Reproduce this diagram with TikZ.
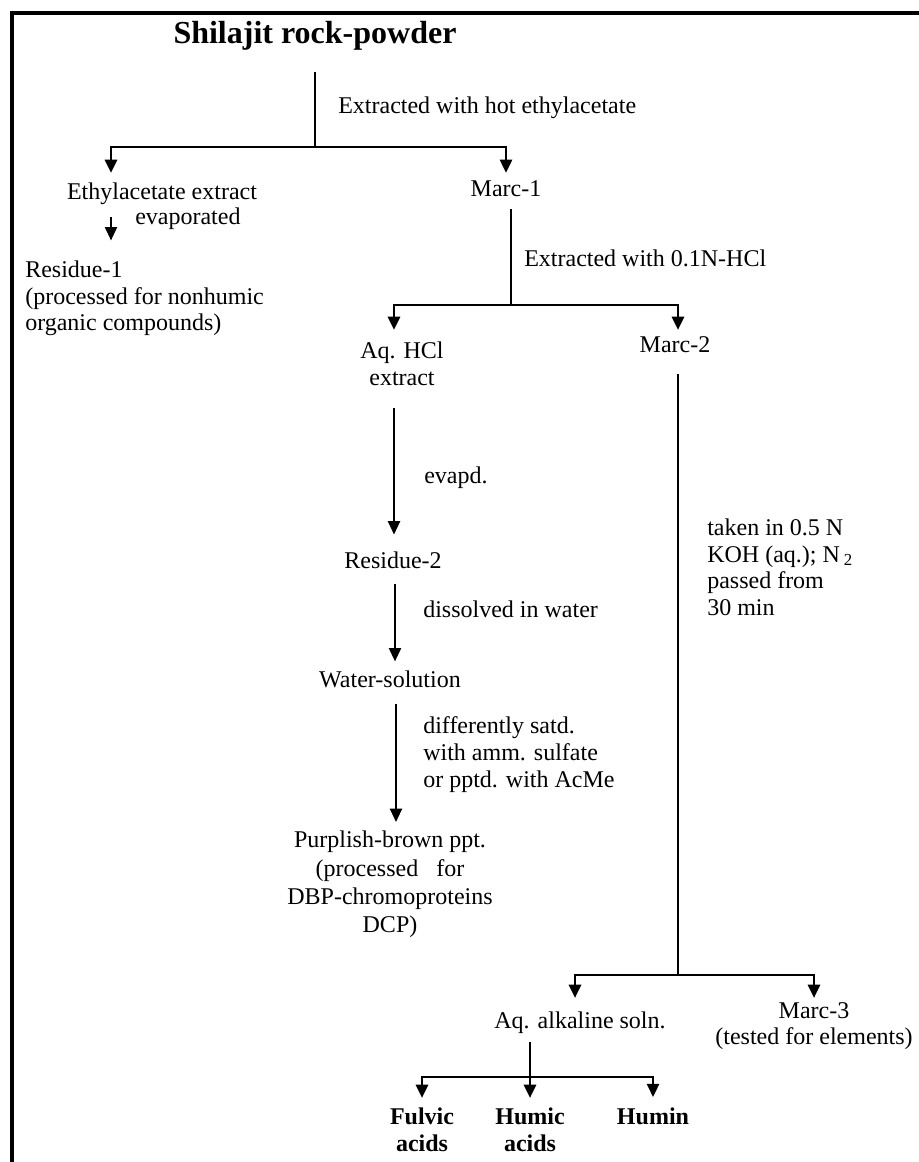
\documentclass[tikz,border=0pt]{standalone}
\usepackage{fontspec}
\setmainfont{Liberation Serif}
\usetikzlibrary{arrows.meta}

\begin{document}
\begin{tikzpicture}[x=0.75pt,y=0.75pt,yscale=-1,xscale=1,
  txt/.style={font=\fontsize{18}{20}\selectfont,inner sep=0pt},
  txtbf/.style={font=\fontsize{18}{20}\selectfont\bfseries,inner sep=0pt},
  stemline/.style={line width=1.5pt},
  forkline/.style={line width=2.2pt},
  downarrow/.style={-{Triangle[width=9pt,length=10pt]}},
  frameline/.style={line width=2.4pt}]
\useasboundingbox (0,0) rectangle (918,1162);

%Straight Lines [frame]
\draw [frameline] (930,13) -- (12,13) -- (12,1175) ;

% Text Node
\node (title) at (315,44) [anchor=base,inner sep=0pt,font=\fontsize{24}{28}\selectfont\bfseries] {Shilajit rock-powder};
% Text Node
\node (extr1) at (338,114) [anchor=base west,txt] {Extracted with hot ethylacetate};
% Text Node
\node (ethyl) at (162,200) [anchor=base,txt] {Ethylacetate extract};
% Text Node
\node (evap) at (135,225) [anchor=base west,txt] {evaporated};
% Text Node
\node (marc1) at (506,197) [anchor=base,txt] {Marc-1};
% Text Node
\node (extr2) at (524,267) [anchor=base west,txt] {Extracted with 0.1N-HCl};
% Text Node
\node (res1) at (25,260.5) [anchor=north west,align=left,txt] {Residue-1\\(processed for nonhumic\\organic compounds)};
% Text Node
\node (aqhcl) at (402,341.5) [anchor=north,align=center,txt] {Aq. HCl\\extract};
% Text Node
\node (marc2) at (675,352) [anchor=base,txt] {Marc-2};
% Text Node
\node (evapd) at (424,483) [anchor=base west,txt] {evapd.};
% Text Node
\node (res2) at (393,568) [anchor=base,txt] {Residue-2};
% Text Node
\node (koh) at (707,518.5) [anchor=north west,align=left,txt] {taken in 0.5 N\\KOH (aq.); N\,\textsubscript{2}\\passed from\\30 min};
% Text Node
\node (dissolved) at (423,617) [anchor=base west,txt] {dissolved in water};
% Text Node
\node (water) at (390,687) [anchor=base,txt] {Water-solution};
% Text Node
\node (satd) at (423,716.5) [anchor=north west,align=left,txt] {differently satd.\\with amm. sulfate\\or pptd. with AcMe};
% Text Node
\node (purple) at (390,831) [anchor=north,align=center,txt,font=\fontsize{18}{21.25}\selectfont] {Purplish-brown ppt.\\(processed~~~for\\DBP-chromoproteins\\DCP)};
% Text Node
\node (alk) at (580,1028) [anchor=base,txt] {Aq. alkaline soln.};
% Text Node
\node (marc3) at (814,1002) [anchor=north,align=center,txt] {Marc-3\\(tested for elements)};
% Text Node
\node (fulvic) at (422,1108) [anchor=north,align=center,txtbf] {Fulvic\\acids};
% Text Node
\node (humic) at (530,1108) [anchor=north,align=center,txtbf] {Humic\\acids};
% Text Node
\node (humin) at (653,1124) [anchor=base,txtbf] {Humin};

% junctions of the forks
\coordinate (f1) at (315,147);
\coordinate (f1l) at (111,173);
\coordinate (f2) at (511,305);
\coordinate (f2l) at (394,330);
\coordinate (f2r) at (678,330);
\coordinate (f3) at (678,975);
\coordinate (f3l) at (575,998);
\coordinate (f3r) at (814,998);
\coordinate (f4) at (530,1077);

%Straight Lines [ethylacetate]
\draw [stemline,shorten <=15.75pt] (title.south) -- (f1) ;
\draw [forkline,downarrow] (f1) -| (f1l) ;
\draw [forkline,downarrow,shorten >=6pt] (f1) -| (marc1.north) ;
\draw [stemline,downarrow] (f1l |- ethyl.south) ++(0,12) -- ++(0,23) ;

%Straight Lines [0.1N-HCl]
\draw [stemline,shorten <=9pt] (marc1.south -| f2) -- (f2) ;
\draw [forkline,downarrow] (f2) -| (f2l) ;
\draw [forkline,downarrow] (f2) -| (f2r) ;

%Straight Lines [aq. HCl extract]
\draw [stemline,downarrow,shorten <=16.5pt,shorten >=12.4pt] (f2l |- aqhcl.south) -- (f2l |- res2.north) ;
\draw [stemline,downarrow,shorten <=11.25pt,shorten >=6.5pt] (f2l |- res2.south) ++(1,0) -- ([xshift=0.75pt]f2l |- water.north) ;
\draw [stemline,downarrow,shorten <=12pt,shorten >=6.75pt] ([xshift=1.5pt]f2l |- water.south) -- ([xshift=1.5pt]f2l |- purple.north) ;

%Straight Lines [KOH]
\draw [stemline,shorten <=15.75pt] (marc2.south -| f2r) -- (f3) ;
\draw [forkline,downarrow] (f3) -| (f3l) ;
\draw [forkline,downarrow] (f3) -| (f3r) ;

%Straight Lines [alkaline]
\draw [stemline,shorten <=6.75pt] (alk.south -| f4) -- (f4) ;
\draw [forkline,downarrow,shorten >=7.5pt] (f4) -| (fulvic.north) ;
\draw [forkline,downarrow,shorten >=7.5pt] (f4) -- (humic.north) ;
\draw [forkline,downarrow,shorten >=7.5pt] (f4) -| (humin.north) ;

\end{tikzpicture}
\end{document}
